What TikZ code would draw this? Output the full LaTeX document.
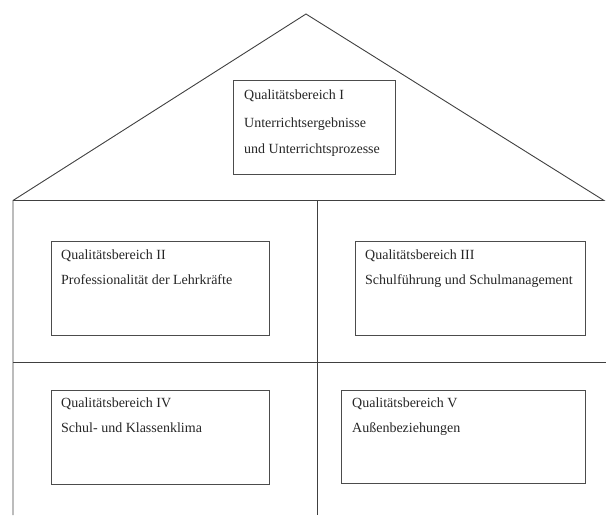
\documentclass[tikz,border=0pt]{standalone}
\usepackage{fontspec}
\setmainfont{Liberation Serif}
\begin{document}
\begin{tikzpicture}[x=1pt,y=-1pt,
  wall/.style={draw=black!75, line width=0.9pt},
  qbox/.style={draw=black!70, line width=0.9pt, rectangle, inner sep=0pt, anchor=north west},
  txt/.style={inner sep=0pt, anchor=base west, font=\fontsize{14}{16}\selectfont, text=black!85}]
\useasboundingbox (0,0) rectangle (606,515);
% house outline
\coordinate (apex) at (306,14);
\coordinate (rl) at (13,200.5);
\coordinate (rr) at (604,200.5);
\coordinate (bl) at (13,515);
\coordinate (mt) at (317.5,200.5);
\coordinate (mb) at (317.5,515);
\coordinate (hl) at (13,362.5);
\coordinate (hr) at (606,362.5);
\draw[wall] (rl) -- (apex) -- (rr) -- (rl) -- (bl);
\draw[wall] (mt) -- (mb);
\draw[wall] (hl) -- (hr);
% boxes
\node[qbox, minimum width=162pt, minimum height=94pt] (b1) at (233,80) {};
\node[qbox, minimum width=218pt, minimum height=94pt] (b2) at (51,241) {};
\node[qbox, minimum width=230pt, minimum height=94pt] (b3) at (354.5,241) {};
\node[qbox, minimum width=218pt, minimum height=94pt] (b4) at (51,389.5) {};
\node[qbox, minimum width=244pt, minimum height=93.5pt] (b5) at (341,389.5) {};
% texts
\node[txt] (t1a) at (244,99) {Qualitätsbereich I};
\node[txt] (t1b) at (244,127) {Unterrichtsergebnisse};
\node[txt] (t1c) at (244,153.5) {und Unterrichtsprozesse};
\node[txt] (t2a) at (61,259) {Qualitätsbereich II};
\node[txt] (t2b) at (61,284) {Professionalität der Lehrkräfte};
\node[txt] (t3a) at (365,259) {Qualitätsbereich III};
\node[txt] (t3b) at (365,284) {Schulführung und Schulmanagement};
\node[txt] (t4a) at (61,407) {Qualitätsbereich IV};
\node[txt] (t4b) at (61,432) {Schul- und Klassenklima};
\node[txt] (t5a) at (352,407) {Qualitätsbereich V};
\node[txt] (t5b) at (352,432) {Außenbeziehungen};
\end{tikzpicture}
\end{document}
